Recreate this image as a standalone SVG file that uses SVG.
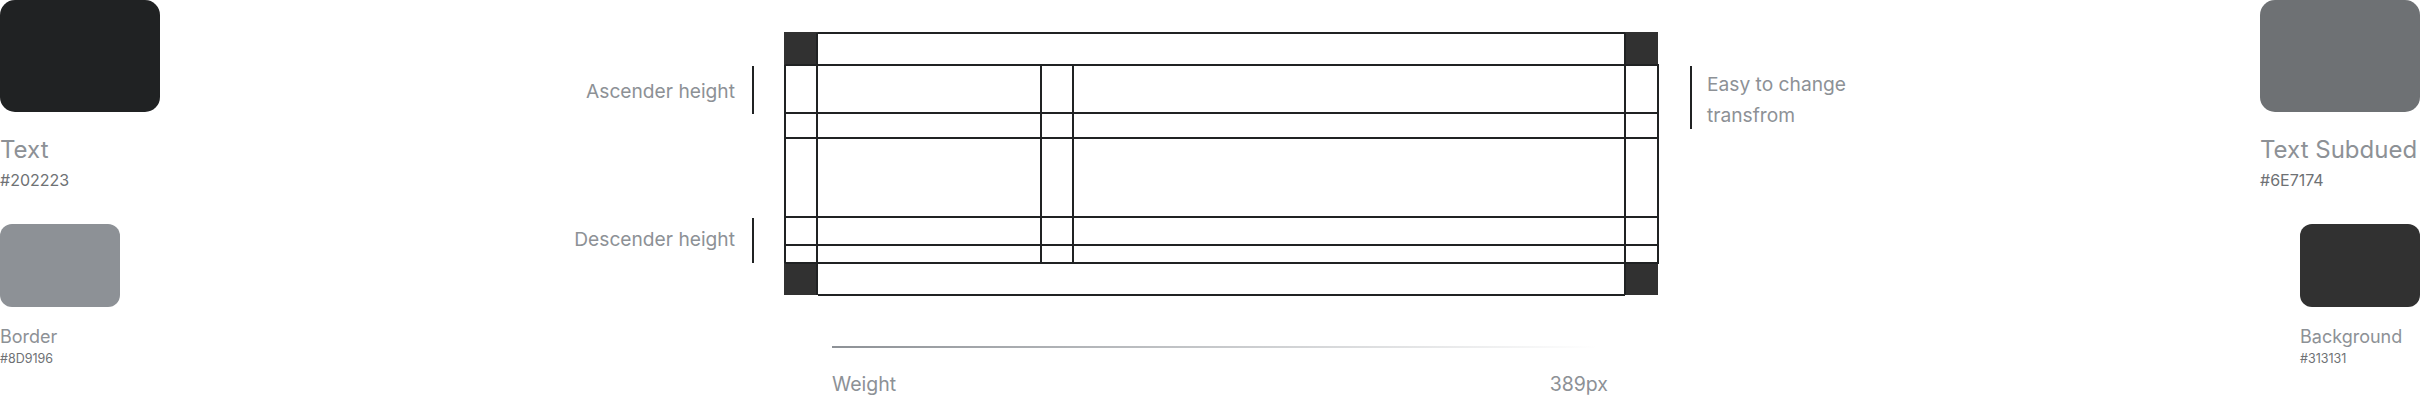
<svg xmlns="http://www.w3.org/2000/svg" width="2420" height="400" viewBox="0 0 2420 400">
<style>
.lbl{font-family:Inter,"Liberation Sans",sans-serif;fill:#8D9196}
.big{font-size:24px}
.hex{font-family:Inter,"Liberation Sans",sans-serif;fill:#6E7174;font-size:16px}
.hexs{font-family:Inter,"Liberation Sans",sans-serif;fill:#6E7174;font-size:12.5px}
.mid{font-size:18px}
.wt{font-size:19.5px}
.note{font-size:19.2px}
.g{stroke:#202223;stroke-width:2;fill:none}
.dk{fill:#313131}
</style>
<defs>
<linearGradient id="fade" x1="0" y1="0" x2="1" y2="0">
<stop offset="0" stop-color="#8D9196"/>
<stop offset="1" stop-color="#8D9196" stop-opacity="0"/>
</linearGradient>
</defs>
<g id="swatch-text">
<rect x="0" y="0" width="160" height="112" rx="15" fill="#202223"/>
<text class="lbl big" x="0" y="158">Text</text>
<text class="hex" x="0" y="186">#202223</text>
</g>
<g id="swatch-border">
<rect x="0" y="224" width="120" height="83" rx="12" fill="#8D9196"/>
<text class="lbl mid" x="0" y="343">Border</text>
<text class="hexs" x="0" y="363">#8D9196</text>
</g>
<g id="swatch-text-subdued">
<rect x="2260" y="0" width="160" height="112" rx="15" fill="#6E7174"/>
<text class="lbl big" x="2260" y="158">Text Subdued</text>
<text class="hex" x="2260" y="186">#6E7174</text>
</g>
<g id="swatch-background">
<rect x="2300" y="224" width="120" height="83" rx="12" fill="#313131"/>
<text class="lbl mid" x="2300" y="343">Background</text>
<text class="hexs" x="2300" y="363">#313131</text>
</g>
<g id="grid">
<rect class="dk" x="784" y="32" width="34" height="33"/>
<rect class="dk" x="1624" y="32" width="34" height="33"/>
<rect class="dk" x="784" y="262" width="34" height="33"/>
<rect class="dk" x="1624" y="262" width="34" height="33"/>
<path class="g" d="M818 33H1625M818 295H1625M785 65H1659M785 113H1659M785 138H1659M785 217H1659M785 245H1659M785 263H1659M785 65V263M817 33V295M1041 65V263M1073 65V263M1625 33V295M1658 65V263"/>
</g>
<g id="annotations">
<line x1="753" y1="66" x2="753" y2="114" stroke="#202223" stroke-width="2"/>
<text class="lbl note" x="735" y="98" text-anchor="end">Ascender height</text>
<line x1="753" y1="218" x2="753" y2="263" stroke="#202223" stroke-width="2"/>
<text class="lbl note" x="735" y="246" text-anchor="end">Descender height</text>
<line x1="1691" y1="66" x2="1691" y2="129" stroke="#202223" stroke-width="2"/>
<text class="lbl note" x="1707" y="91">Easy to change</text>
<text class="lbl note" x="1707" y="122">transfrom</text>
</g>
<g id="weight">
<rect x="832" y="346" width="765" height="2" fill="url(#fade)"/>
<text class="lbl wt" x="832" y="391">Weight</text>
<text class="lbl wt" x="1608" y="391" text-anchor="end">389px</text>
</g>
</svg>
